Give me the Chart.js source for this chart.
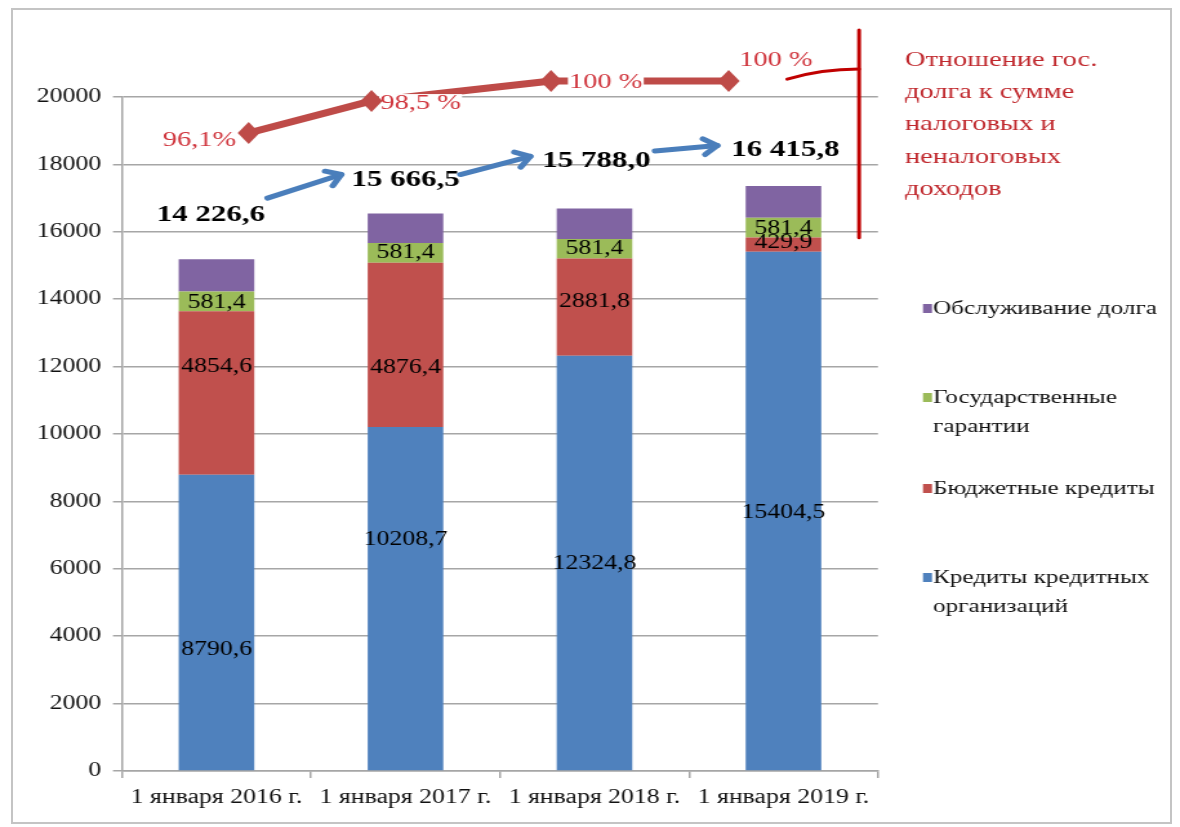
<!DOCTYPE html>
<html lang="ru">
<head>
<meta charset="utf-8">
<title>Государственный долг</title>
<script src="https://cdn.jsdelivr.net/npm/chart.js@4.4.1/dist/chart.umd.min.js"></script>
<style>
    html, body { margin: 0; padding: 0; background: #fff; }
    #frame { position: absolute; left: 11px; top: 8px; width: 1157px; height: 812px; border: 2px solid #c4c4c4; }
    /* исходная картинка растянута по горизонтали, поэтому растягиваем холст так же */
    #debt-chart { position: absolute; left: 0; top: 0; transform-origin: 0 0; transform: scaleX(1.2896); }
</style>
</head>
<body>
<div id="frame"></div>
<canvas id="debt-chart" width="915" height="827"></canvas>
<script>
// Данные
const categories = ['1 января 2016 г.', '1 января 2017 г.', '1 января 2018 г.', '1 января 2019 г.'];
const bankLoans = [8790.6, 10208.7, 12324.8, 15404.5];   // Кредиты кредитных организаций
const budgetLoans = [4854.6, 4876.4, 2881.8, 429.9];     // Бюджетные кредиты
const guarantees = [581.4, 581.4, 581.4, 581.4];         // Государственные гарантии
const debtService = [960, 880, 900, 940];                // Обслуживание долга (без подписей, на глаз)
const debtTotals = ['14 226,6', '15 666,5', '15 788,0', '16 415,8'];
const ratioValues = [96.1, 98.5, 100, 100];
const ratioLabels = ['96,1%', '98,5 %', '100 %', '100 %'];
const ratioX = [0.17, 0.82, 1.77, 2.71];                 // где стоят ромбы (доля категории)
const yTicks = [0, 2000, 4000, 6000, 8000, 10000, 12000, 14000, 16000, 18000, 20000];

// Раскладка надписей поверх графика: [индекс категории, значение по оси Y]
const totalsAt = [[-0.03, 16500], [1.0, 17550], [2.01, 18120], [3.01, 18430]];
const arrowsAt = [
    [[0.27, 17000], [0.66, 17700]],
    [[1.29, 17700], [1.66, 18240]],
    [[2.32, 18400], [2.65, 18560]]
];
const ratioLabelAt = [[-0.09, 18720], [1.08, 19820], [2.06, 20450], [2.96, 21100]];
const bankLabelAt = [3600, 6850, 6150, 7650];
const budgetLabelAt = [11990, 11960, 13920, 15670];
const guarLabelAt = [13890, 15370, 15490, 16080];

const ratioTitle = ['Отношение гос.', 'долга к сумме', 'налоговых и', 'неналоговых', 'доходов'];
const legendItems = [
    { lines: ['Обслуживание долга'], color: '#8064a2', y: 309 },
    { lines: ['Государственные', 'гарантии'], color: '#9bbb59', y: 398 },
    { lines: ['Бюджетные кредиты'], color: '#c0504d', y: 489 },
    { lines: ['Кредиты кредитных', 'организаций'], color: '#4f81bd', y: 578 }
];

const SERIF = "'Liberation Serif', 'Times New Roman', serif";
const GRID = '#a6a6a6';
const RATIO_RED = '#be4b48';

function drawText(ctx, text, x, y, font, color, align) {
    ctx.font = font;
    ctx.fillStyle = color;
    ctx.textAlign = align || 'center';
    ctx.textBaseline = 'middle';
    ctx.fillText(text, x, y);
}

const overlayPlugin = {
    id: 'overlay',
    afterDatasetsDraw(chart) {
        const ctx = chart.ctx;
        const xs = chart.scales.x, ys = chart.scales.y;
        const px = idx => xs.getPixelForDecimal((idx + 0.5) / categories.length);
        const py = v => ys.getPixelForValue(v);
        ctx.save();

        // подписи сегментов
        const segFont = '20px ' + SERIF;
        categories.forEach((c, i) => {
            drawText(ctx, String(bankLoans[i]).replace('.', ','), px(i), py(bankLabelAt[i]), segFont, '#000');
            drawText(ctx, String(budgetLoans[i]).replace('.', ','), px(i), py(budgetLabelAt[i]), segFont, '#000');
            drawText(ctx, String(guarantees[i]).replace('.', ','), px(i), py(guarLabelAt[i]), segFont, '#000');
        });

        // итоги и синие стрелки
        totalsAt.forEach((p, i) => {
            drawText(ctx, debtTotals[i], px(p[0]), py(p[1]), 'bold 24px ' + SERIF, '#000');
        });
        ctx.strokeStyle = '#4a7ebb';
        ctx.lineWidth = 5;
        ctx.lineCap = 'round';
        ctx.lineJoin = 'round';
        arrowsAt.forEach(a => {
            const x1 = px(a[0][0]), y1 = py(a[0][1]), x2 = px(a[1][0]), y2 = py(a[1][1]);
            const ang = Math.atan2(y2 - y1, x2 - x1);
            ctx.beginPath();
            ctx.moveTo(x1, y1);
            ctx.lineTo(x2, y2);
            ctx.stroke();
            ctx.beginPath();
            ctx.moveTo(x2 - 13 * Math.cos(ang - 0.65), y2 - 13 * Math.sin(ang - 0.65));
            ctx.lineTo(x2, y2);
            ctx.lineTo(x2 - 13 * Math.cos(ang + 0.65), y2 - 13 * Math.sin(ang + 0.65));
            ctx.stroke();
        });

        // подписи процентов на белой подложке
        const pctFont = '22px ' + SERIF;
        ctx.font = pctFont;
        ratioLabelAt.forEach((p, i) => {
            const w = ctx.measureText(ratioLabels[i]).width;
            ctx.fillStyle = '#fff';
            ctx.fillRect(px(p[0]) - w / 2 - 1, py(p[1]) - 9, w + 2, 18);
            drawText(ctx, ratioLabels[i], px(p[0]), py(p[1]), pctFont, '#d0343c');
        });

        // ромбы линии отношения (Chart.js не рисует точки выше области графика)
        const meta = chart.getDatasetMeta(4);
        ctx.fillStyle = RATIO_RED;
        meta.data.forEach(pt => {
            ctx.beginPath();
            ctx.moveTo(pt.x, pt.y - 11);
            ctx.lineTo(pt.x + 8.5, pt.y);
            ctx.lineTo(pt.x, pt.y + 11);
            ctx.lineTo(pt.x - 8.5, pt.y);
            ctx.closePath();
            ctx.fill();
        });

        // красная скобка справа
        ctx.strokeStyle = '#c00000';
        ctx.lineWidth = 3;
        ctx.beginPath();
        ctx.moveTo(px(3.02), py(20530));
        ctx.quadraticCurveTo(px(3.2), py(20830), px(3.4), py(20830));
        ctx.stroke();
        ctx.beginPath();
        ctx.moveTo(px(3.4), py(21990));
        ctx.lineTo(px(3.4), py(15820));
        ctx.stroke();

        ctx.restore();
    },
    afterDraw(chart) {
        const ctx = chart.ctx;
        ctx.save();
        ratioTitle.forEach((line, i) => {
            drawText(ctx, line, 701.8, 60 + i * 32.3, '22px ' + SERIF, '#c0282d', 'left');
        });
        legendItems.forEach(item => {
            ctx.fillStyle = item.color;
            ctx.fillRect(715.7, item.y - 5, 7, 9);
            item.lines.forEach((line, j) => {
                drawText(ctx, line, 723.5, item.y + j * 29, '19.5px ' + SERIF, '#111', 'left');
            });
        });
        ctx.restore();
    }
};

const ctx = document.getElementById('debt-chart').getContext('2d');
new Chart(ctx, {
    type: 'bar',
    data: {
        labels: categories,
        datasets: [
            { label: 'Кредиты кредитных организаций', data: bankLoans, backgroundColor: '#4f81bd', order: 1 },
            { label: 'Бюджетные кредиты', data: budgetLoans, backgroundColor: '#c0504d', order: 1 },
            { label: 'Государственные гарантии', data: guarantees, backgroundColor: '#9bbb59', order: 1 },
            { label: 'Обслуживание долга', data: debtService, backgroundColor: '#8064a2', order: 1 },
            {
                type: 'line',
                label: 'Отношение гос. долга к сумме налоговых и неналоговых доходов',
                data: ratioValues.map((v, i) => ({ x: ratioX[i], y: v })),
                xAxisID: 'xr',
                yAxisID: 'yr',
                borderColor: RATIO_RED,
                borderWidth: 7,
                pointRadius: 0,
                clip: false,
                order: 0
            }
        ]
    },
    options: {
        responsive: false,
        devicePixelRatio: 1,
        animation: false,
        events: [],
        layout: { padding: { top: 97, right: 234.2, left: 0, bottom: 0 } },
        datasets: { bar: { grouped: false, categoryPercentage: 1, barPercentage: 0.4 } },
        plugins: { legend: { display: false }, tooltip: { enabled: false } },
        scales: {
            x: {
                stacked: true,
                grid: { drawOnChartArea: false, drawTicks: true, tickLength: 7, offset: true, color: GRID, lineWidth: 1.5 },
                border: { color: GRID, width: 1.5 },
                ticks: { color: '#111', font: { family: SERIF, size: 20 }, padding: 8, maxRotation: 0 },
                afterFit(scale) { scale.height = 56; }
            },
            y: {
                stacked: true,
                min: 0,
                max: 20000,
                afterBuildTicks(scale) { scale.ticks = yTicks.map(v => ({ value: v })); },
                grid: { color: GRID, lineWidth: 1.5, tickLength: 7 },
                border: { color: GRID, width: 1.5 },
                ticks: { color: '#111', font: { family: SERIF, size: 20 }, padding: 9, callback: v => String(v) },
                afterFit(scale) { scale.width = 94.6; }
            },
            xr: { type: 'linear', display: false, offset: false, min: -0.5, max: 3.5, grid: { offset: false } },
            yr: { type: 'linear', display: false, beginAtZero: false, min: 48.2, max: 98.8 }
        }
    },
    plugins: [overlayPlugin]
});
</script>
</body>
</html>
